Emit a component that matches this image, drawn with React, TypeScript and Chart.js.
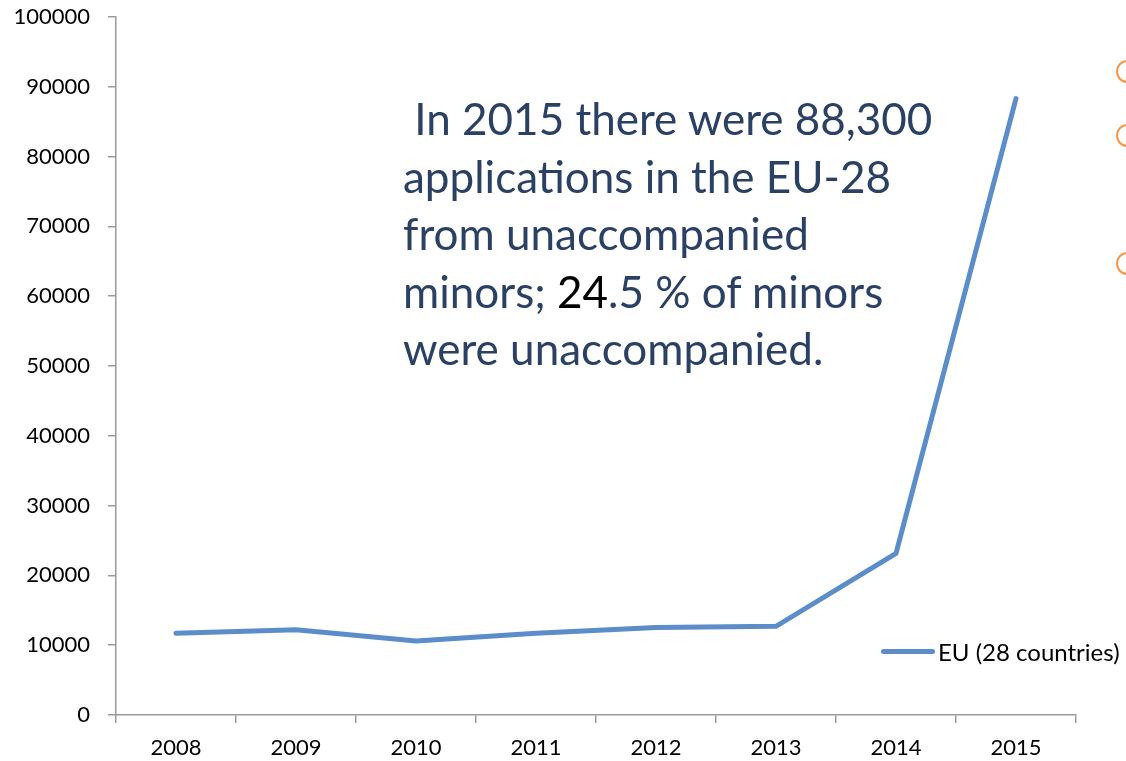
import React, { useEffect, useRef } from "react";
import { Chart, registerables } from "chart.js";

Chart.register(...registerables);

const years = ["2008", "2009", "2010", "2011", "2012", "2013", "2014", "2015"];
const euValues = [11700, 12200, 10600, 11700, 12550, 12700, 23150, 88300];
const seriesLabel = "EU (28 countries)";
const yMin = 0;
const yMax = 100000;
const yStep = 10000;

const LINE_COLOR = "#5B8DC8";
const AXIS_COLOR = "#9a9a9a";
const FONT = "Lato, 'Open Sans', 'DejaVu Sans', sans-serif";

export default function App() {
  const canvasRef = useRef<HTMLCanvasElement | null>(null);

  useEffect(() => {
    const ctx = canvasRef.current;
    if (!ctx) return;
    const chart = new Chart(ctx, {
      type: "line",
      data: {
        labels: years,
        datasets: [
          {
            label: seriesLabel,
            data: euValues,
            borderColor: LINE_COLOR,
            backgroundColor: LINE_COLOR,
            borderWidth: 5,
            pointRadius: 0,
            pointHoverRadius: 0,
            tension: 0,
            borderCapStyle: "round",
            borderJoinStyle: "miter",
          },
        ],
      },
      options: {
        responsive: false,
        animation: false,
        layout: { padding: { left: 0, right: 50, top: 17, bottom: 0 } },
        plugins: {
          legend: { display: false },
          tooltip: { enabled: false },
        },
        scales: {
          x: {
            type: "category",
            offset: true,
            grid: {
              offset: true,
              drawOnChartArea: false,
              drawTicks: true,
              tickLength: 8,
              color: AXIS_COLOR,
              lineWidth: 1.5,
            },
            border: { color: AXIS_COLOR, width: 1.5 },
            ticks: {
              color: "#000",
              font: { family: FONT, size: 22 },
              padding: 12,
              maxRotation: 0,
            },
            afterFit: (scale: any) => {
              scale.height = 46;
            },
          },
          y: {
            min: yMin,
            max: yMax,
            grid: {
              drawOnChartArea: false,
              drawTicks: true,
              tickLength: 8,
              color: AXIS_COLOR,
              lineWidth: 1.5,
            },
            border: { color: AXIS_COLOR, width: 1.5 },
            ticks: {
              stepSize: yStep,
              color: "#000",
              font: { family: FONT, size: 22 },
              padding: 18,
              callback: (v: any) => String(v),
            },
            afterFit: (scale: any) => {
              scale.width = 116;
              scale.paddingTop = 0;
              scale.paddingBottom = 0;
            },
          },
        },
      },
    });
    return () => chart.destroy();
  }, []);

  const textStyle: React.CSSProperties = {
    position: "absolute",
    left: 403,
    top: 90,
    fontFamily: FONT,
    fontSize: 44,
    lineHeight: "57.5px",
    color: "#2A4163",
    whiteSpace: "pre",
  };

  const circle = (top: number): React.CSSProperties => ({
    position: "absolute",
    left: 1116,
    top: top - 11,
    width: 19,
    height: 19,
    borderRadius: "50%",
    border: "2px solid #F79646",
  });

  return (
    <div
      style={{
        position: "fixed",
        left: 0,
        top: 0,
        width: 1126,
        height: 761,
        overflow: "hidden",
        background: "#fff",
      }}
    >
      <canvas ref={canvasRef} width={1126} height={761} style={{ display: "block" }} />
      <div style={textStyle}>
        <div>{" In 2015 there were 88,300"}</div>
        <div>applications in the EU-28</div>
        <div>from unaccompanied</div>
        <div>
          minors; <span style={{ color: "#000" }}>24</span>.5 % of minors
        </div>
        <div>were unaccompanied.</div>
      </div>
      <div style={circle(71)} />
      <div style={circle(135)} />
      <div style={circle(263)} />
      <div
        style={{
          position: "absolute",
          left: 881,
          top: 649,
          width: 54,
          height: 5,
          borderRadius: 3,
          background: LINE_COLOR,
        }}
      />
      <div
        style={{
          position: "absolute",
          left: 938,
          top: 637,
          fontFamily: FONT,
          fontSize: 24,
          lineHeight: "30px",
          color: "#000",
          whiteSpace: "pre",
        }}
      >
        {seriesLabel}
      </div>
    </div>
  );
}
